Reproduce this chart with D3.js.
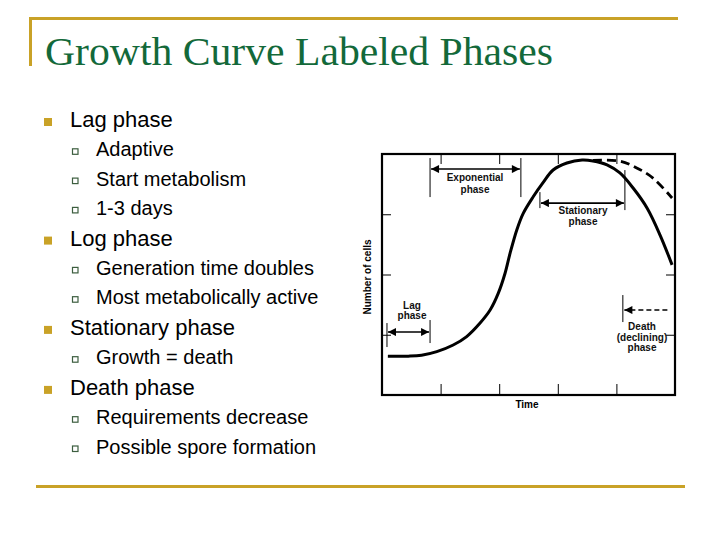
<!DOCTYPE html>
<html>
<head>
<meta charset="utf-8">
<script src="https://cdn.jsdelivr.net/npm/d3@7"></script>
<style>
  html, body { margin: 0; padding: 0; background: #fff; }
  svg { display: block; }
</style>
</head>
<body>
<svg id="slide" width="720" height="540"></svg>
<script>
// ---------- data ----------
const titleText = "Growth Curve Labeled Phases";
const bulletTexts = [
  "Lag phase", "Adaptive", "Start metabolism", "1-3 days",
  "Log phase", "Generation time doubles", "Most metabolically active",
  "Stationary phase", "Growth = death",
  "Death phase", "Requirements decrease", "Possible spore formation"
];
const bulletLevels = [0, 1, 1, 1, 0, 1, 1, 0, 1, 0, 1, 1];

// growth curve (time units, cell-count units)
const timeSolid  = [0.2, 0.9, 1.35, 1.87, 2.43, 2.89, 3.34, 3.69, 3.97, 4.2, 4.37, 4.6, 4.82, 5.16, 5.49, 5.84, 6.31, 6.83, 7.2, 7.68, 8.12, 8.57, 9.05, 9.49, 9.9];
const cellsSolid = [1.29, 1.29, 1.32, 1.44, 1.66, 1.94, 2.38, 2.82, 3.38, 4.04, 4.7, 5.48, 6.03, 6.58, 7.04, 7.47, 7.7, 7.8, 7.77, 7.64, 7.37, 6.87, 6.2, 5.31, 4.32];
const timeDashed  = [7.2, 8.13, 8.71, 9.25, 9.9];
const cellsDashed = [7.79, 7.76, 7.53, 7.2, 6.54];

const xTicks = [2, 4, 6, 8];
const yTicks = [2, 4, 6];

// phase annotations: label lines, span start/end (time), arrow level (cells)
const phaseLabels = [["Lag", "phase"], ["Exponential", "phase"], ["Stationary", "phase"], ["Death", "(declining)", "phase"]];
const phaseStart  = [0.17, 1.64, 5.39, 9.74];
const phaseEnd    = [1.64, 4.74, 8.29, 8.22];
const phaseLevel  = [2.09, 7.5, 6.37, 2.82];

const xAxisLabel = "Time";
const yAxisLabel = "Number of cells";

// ---------- drawing ----------
const gold = "#c9a227";
const svg = d3.select("#slide");

// decorative gold lines
svg.append("line").attr("x1", 29).attr("x2", 678).attr("y1", 18.5).attr("y2", 18.5)
  .attr("stroke", gold).attr("stroke-width", 3);
svg.append("line").attr("x1", 30.5).attr("x2", 30.5).attr("y1", 17).attr("y2", 66)
  .attr("stroke", gold).attr("stroke-width", 3);
svg.append("line").attr("x1", 36).attr("x2", 685).attr("y1", 486.5).attr("y2", 486.5)
  .attr("stroke", gold).attr("stroke-width", 3);

// title
svg.append("text").attr("x", 45).attr("y", 65)
  .attr("font-family", "'Liberation Serif', 'Times New Roman', serif")
  .attr("font-size", 40).attr("fill", "#13693a")
  .attr("textLength", 508).attr("lengthAdjust", "spacingAndGlyphs")
  .text(titleText);

// bullets
let by = 127;
bulletTexts.forEach((t, i) => {
  const lvl = bulletLevels[i];
  if (i > 0) by += (lvl === 0 ? 30.7 : 29.3);
  if (lvl === 0) {
    svg.append("rect").attr("x", 44).attr("y", by - 9).attr("width", 8).attr("height", 8)
      .attr("fill", gold);
    svg.append("text").attr("x", 70).attr("y", by)
      .attr("font-family", "'Liberation Sans', Arial, sans-serif")
      .attr("font-size", 22).attr("fill", "#000").text(t);
  } else {
    svg.append("rect").attr("x", 72.5).attr("y", by - 7.5).attr("width", 5.5).attr("height", 5.5)
      .attr("fill", "none").attr("stroke", "#3c5e3f").attr("stroke-width", 1.2);
    svg.append("text").attr("x", 96).attr("y", by)
      .attr("font-family", "'Liberation Sans', Arial, sans-serif")
      .attr("font-size", 20).attr("fill", "#000").text(t);
  }
});

// chart
const x = d3.scaleLinear().domain([0, 10]).range([382, 675]);
const y = d3.scaleLinear().domain([0, 8]).range([395, 154]);
const chart = svg.append("g");

const defs = svg.append("defs");
defs.append("marker").attr("id", "ah")
  .attr("viewBox", "0 0 10 10").attr("refX", 10).attr("refY", 5)
  .attr("markerUnits", "userSpaceOnUse")
  .attr("markerWidth", 9).attr("markerHeight", 8).attr("orient", "auto-start-reverse")
  .append("path").attr("d", "M0,0 L10,5 L0,10 z").attr("fill", "#000");

// ticks via axes
function styleAxis(g) {
  g.select(".domain").remove();
  g.selectAll(".tick line").attr("stroke", "#000").attr("stroke-width", 1);
  g.selectAll(".tick text").remove();
}
chart.append("g").attr("transform", `translate(0,${y(0)})`)
  .call(d3.axisBottom(x).tickValues(xTicks).tickSize(-11).tickFormat("")).call(styleAxis);
chart.append("g").attr("transform", `translate(0,${y(8)})`)
  .call(d3.axisTop(x).tickValues(xTicks).tickSize(-10).tickFormat("")).call(styleAxis);
chart.append("g").attr("transform", `translate(${x(0)},0)`)
  .call(d3.axisLeft(y).tickValues(yTicks).tickSize(-9).tickFormat("")).call(styleAxis);
chart.append("g").attr("transform", `translate(${x(10)},0)`)
  .call(d3.axisRight(y).tickValues(yTicks).tickSize(-9).tickFormat("")).call(styleAxis);

// frame
chart.append("rect").attr("x", x(0)).attr("y", y(8))
  .attr("width", x(10) - x(0)).attr("height", y(0) - y(8))
  .attr("fill", "none").attr("stroke", "#000").attr("stroke-width", 2.2);

// curves
const line = d3.line().x(d => x(d[0])).y(d => y(d[1])).curve(d3.curveCatmullRom.alpha(0.5));
chart.append("path").datum(timeSolid.map((t, i) => [t, cellsSolid[i]]))
  .attr("d", line).attr("fill", "none").attr("stroke", "#000").attr("stroke-width", 3)
  .attr("stroke-linecap", "butt");
chart.append("path").datum(timeDashed.map((t, i) => [t, cellsDashed[i]]))
  .attr("d", line).attr("fill", "none").attr("stroke", "#000").attr("stroke-width", 2.8)
  .attr("stroke-dasharray", "9,5");

// phase annotations
const barExt = [[[-9, 15], [-12, 11]], [[-11, 28], [-11, 28]], [[-11, 5], [-33, 7]], [null, [-15, 12]]];
const labelPos = [[412, [309, 319]], [475, [181, 193]], [583, [214, 225]], [642, [330, 340.5, 351]]];
const labelFont = "'Liberation Sans', Arial, sans-serif";
phaseLabels.forEach((lab, i) => {
  const x0 = x(phaseStart[i]), x1 = x(phaseEnd[i]), ay = y(phaseLevel[i]);
  const isDeath = i === 3;
  if (!isDeath) {
    chart.append("line").attr("x1", x0 + 1).attr("x2", x1 - 1).attr("y1", ay).attr("y2", ay)
      .attr("stroke", "#000").attr("stroke-width", 1.6)
      .attr("marker-start", "url(#ah)").attr("marker-end", "url(#ah)");
  } else {
    chart.append("line").attr("x1", x0).attr("x2", x1 + 8).attr("y1", ay).attr("y2", ay)
      .attr("stroke", "#000").attr("stroke-width", 1.5).attr("stroke-dasharray", "5,3");
    chart.append("line").attr("x1", x1 + 9).attr("x2", x1 + 1.5).attr("y1", ay).attr("y2", ay)
      .attr("stroke", "#000").attr("stroke-width", 1.6).attr("marker-end", "url(#ah)");
  }
  const ends = [x0, x1];
  barExt[i].forEach((e, k) => {
    if (!e) return;
    chart.append("line").attr("x1", ends[k]).attr("x2", ends[k])
      .attr("y1", ay + e[0]).attr("y2", ay + e[1])
      .attr("stroke", "#000").attr("stroke-width", 1);
  });
  lab.forEach((s, k) => {
    chart.append("text").attr("x", labelPos[i][0]).attr("y", labelPos[i][1][k])
      .attr("text-anchor", "middle").attr("font-family", labelFont)
      .attr("font-size", 10).attr("font-weight", "bold").attr("fill", "#111")
      .text(s);
  });
});

// axis labels
chart.append("text").attr("x", 527).attr("y", 408).attr("text-anchor", "middle")
  .attr("font-family", labelFont).attr("font-size", 10).attr("font-weight", "bold")
  .text(xAxisLabel);
chart.append("text").attr("transform", "translate(371,277) rotate(-90)")
  .attr("text-anchor", "middle")
  .attr("font-family", labelFont).attr("font-size", 10).attr("font-weight", "bold")
  .text(yAxisLabel);
</script>
</body>
</html>
